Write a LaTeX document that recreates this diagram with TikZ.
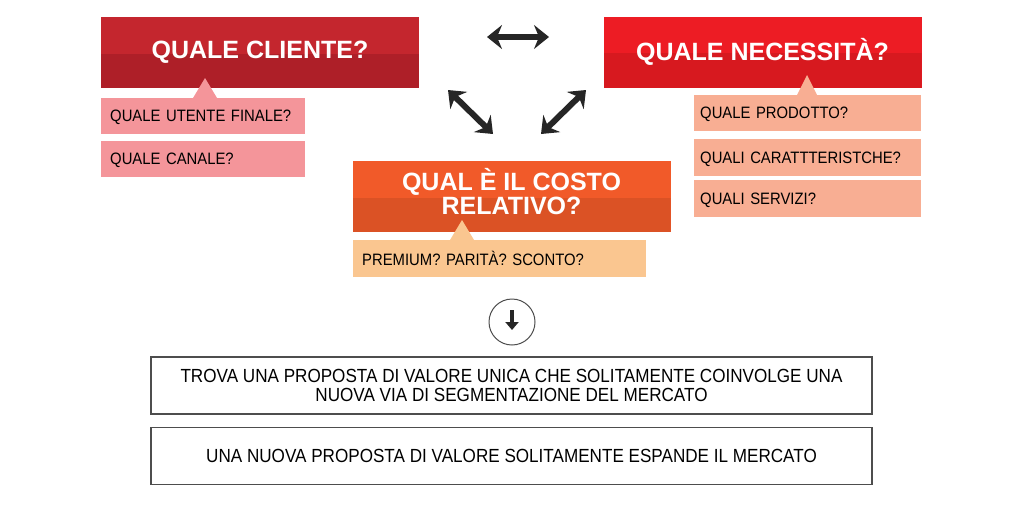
\documentclass[tikz,border=0pt]{standalone}
\usepackage{fontspec}
\setmainfont{Liberation Sans}
\newfontfamily\narrowfont[FakeStretch=0.9]{Liberation Sans}
\usepackage{tikz}
\usetikzlibrary{arrows.meta,calc,positioning}
\definecolor{CliTop}{HTML}{C4262E}
\definecolor{CliBot}{HTML}{AE1F28}
\definecolor{CliSub}{HTML}{F4959A}
\definecolor{NecTop}{HTML}{ED1C24}
\definecolor{NecBot}{HTML}{D7191F}
\definecolor{NecSub}{HTML}{F8AE93}
\definecolor{CosTop}{HTML}{F15A29}
\definecolor{CosBot}{HTML}{DB5225}
\definecolor{CosSub}{HTML}{FAC690}
\definecolor{Bordo}{HTML}{4D4D4D}

\tikzset{
    titlebox/.style={fill=#1Top, minimum width=318pt, minimum height=71pt,
        text=white, align=center, inner sep=0pt,
        font=\fontsize{25}{20}\selectfont\bfseries,
        path picture={\fill[#1Bot] ([yshift=-1pt]path picture bounding box.west)
            rectangle (path picture bounding box.south east);}},
    subbox/.style={fill=#1, anchor=north west, minimum height=36pt,
        inner xsep=9pt, inner ysep=0pt, align=left, text depth=0pt,
        font=\narrowfont\fontsize{16.5}{18}\selectfont},
    twoway/.style={{Stealth[length=15pt,width=24pt,inset=5pt]}-{Stealth[length=15pt,width=24pt,inset=5pt]},
        line width=6pt, draw=black!85},
    textbox/.style={draw=Bordo, line width=1.5pt, minimum width=721pt,
        minimum height=57pt, align=center,
        font=\narrowfont\fontsize{19}{19}\selectfont}
}

\begin{document}
\begin{tikzpicture}[x=1pt, y=-1pt]
    \useasboundingbox (0,0) rectangle (1024,512);

    % domande principali
    \node [titlebox=Cli] (cliente) at (260,52.5) {QUALE CLIENTE?};
    \node [titlebox=Nec] (necessita) at (762.5,52) {QUALE NECESSIT\`A?};
    \node [titlebox=Cos, text depth=10pt] (costo) at (511.5,196.5)
        {QUAL \`E IL COSTO\\RELATIVO?};

    % sotto-domande
    \node [subbox=CliSub, text width=186pt] (cliente1) at (101,98) {QUALE UTENTE FINALE?};
    \node [subbox=CliSub, text width=186pt] (cliente2) at (101,141) {QUALE CANALE?};
    \node [subbox=NecSub, text width=215pt, inner xsep=6pt] (necessita1) at (694,95) {QUALE PRODOTTO?};
    \node [subbox=NecSub, text width=215pt, inner xsep=6pt, minimum height=37pt] (necessita2) at (694,139) {QUALI CARATTTERISTCHE?};
    \node [subbox=NecSub, text width=215pt, inner xsep=6pt, minimum height=37pt] (necessita3) at (694,180) {QUALI SERVIZI?};
    \node [subbox=CosSub, text width=275pt, minimum height=37pt] (costo1) at (353,240) {PREMIUM? PARIT\`A? SCONTO?};

    % punte
    \fill [CliSub] ([xshift=92pt]cliente1.north west) -- ++(12,-20) -- ++(12,20) -- cycle;
    \fill [NecSub] ([xshift=103pt]necessita1.north west) -- ++(10,-20) -- ++(10,20) -- cycle;
    \fill [CosSub] ([xshift=97pt]costo1.north west) -- ++(12,-20) -- ++(12,20) -- cycle;

    % frecce doppie
    \coordinate (h1) at (487,37);
    \coordinate (h2) at (549,37);
    \coordinate (l1) at (448,90);
    \coordinate (l2) at (493,134);
    \coordinate (r1) at (586,90);
    \coordinate (r2) at (541,134);
    \draw [twoway] (h1) -- (h2);
    \draw [twoway] (l1) -- (l2);
    \draw [twoway] (r1) -- (r2);

    % conclusione
    \node [draw=Bordo, line width=1pt, circle, minimum size=46pt] (giu) at (512,322) {};
    \draw [-{Triangle[length=8pt,width=13pt]}, line width=4pt, draw=black!85]
        ([yshift=12pt]giu.center) -- ([yshift=-8pt]giu.center);

    \node [textbox] (proposta) at (511.5,385.5)
        {TROVA UNA PROPOSTA DI VALORE UNICA CHE SOLITAMENTE COINVOLGE UNA\\
         NUOVA VIA DI SEGMENTAZIONE DEL MERCATO};
    \node [textbox] (mercato) at (511.5,456)
        {UNA NUOVA PROPOSTA DI VALORE SOLITAMENTE ESPANDE IL MERCATO};
\end{tikzpicture}
\end{document}
